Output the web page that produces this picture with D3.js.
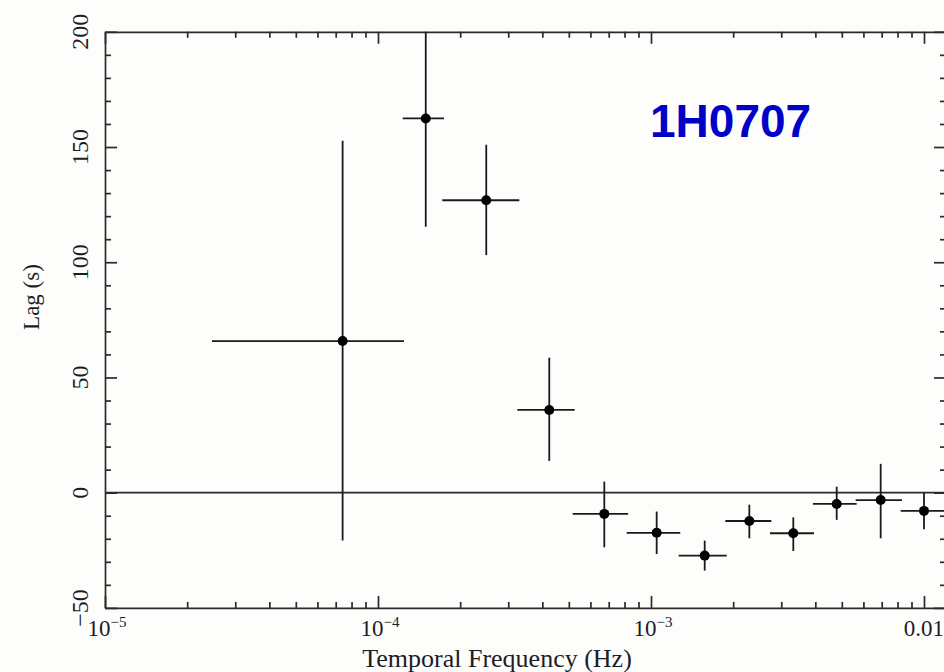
<html>
<head>
<style>
body { margin: 0; background: #fdfdfb; }
svg { display: block; }
.tick-label { font-family: "Liberation Serif", "DejaVu Serif", serif; fill: #1c1c28; }
.axis path, .axis line { stroke: #2a2a2a; stroke-width: 1.7px; }
.err { stroke: #1a1a1a; stroke-width: 1.8px; }
</style>
</head>
<body>
<div class="chart"></div>
<script src="https://d3js.org/d3.v7.min.js"></script>
<script>
// frequency bins (Hz): centre, lower and upper edge
var freq   = [7.42e-5, 1.496e-4, 2.492e-4, 4.24e-4, 6.745e-4, 1.049e-3, 1.573e-3, 2.292e-3, 3.321e-3, 4.789e-3, 6.94e-3, 1.0e-2];
var freqLo = [2.464e-5, 1.232e-4, 1.720e-4, 3.238e-4, 5.166e-4, 8.147e-4, 1.263e-3, 1.872e-3, 2.728e-3, 3.92e-3, 5.62e-3, 8.216e-3];
var freqHi = [1.245e-4, 1.745e-4, 3.293e-4, 5.254e-4, 8.25e-4, 1.28e-3, 1.894e-3, 2.758e-3, 3.955e-3, 5.668e-3, 8.305e-3, 1.217e-2];
// lag (s) and its error range
var lag    = [65.8, 162.4, 126.9, 35.9, -9.2, -17.4, -27.3, -12.3, -17.6, -4.9, -3.2, -7.9];
var lagHi  = [152.7, 212, 151.0, 58.6, 4.8, -8.2, -20.8, -5.2, -10.7, 2.6, 12.5, 0.0];
var lagLo  = [-20.8, 115.4, 103.1, 13.8, -23.7, -26.6, -33.8, -19.8, -25.3, -11.8, -19.8, -15.9];

var xMajor = [1e-5, 1e-4, 1e-3, 1e-2];
var xLabelBase = ["10", "10", "10", "0.01"];
var xLabelExp  = ["\u22125", "\u22124", "\u22123", ""];
var yMajor = [-50, 0, 50, 100, 150, 200];
var yLabels = ["\u221250", "0", "50", "100", "150", "200"];

var W = 944, H = 672;
var pL = 105, pR = 946, pT = 31.8, pB = 607.9;

var svg = d3.select(".chart").append("svg")
    .attr("width", W)
    .attr("height", H);

var x = d3.scaleLog().domain([1e-5, 0.01204]).range([pL, pR]);
var y = d3.scaleLinear().domain([-50, 200]).range([pB, pT]);

// minor ticks
var xMinor = [];
xMajor.forEach(function(d){
  for (var k = 2; k <= 9; k++) if (d * k < 0.01204) xMinor.push(d * k);
});
var yMinor = d3.range(-50, 201, 10).filter(function(v){ return v % 50 !== 0; });

svg.append("defs").append("clipPath").attr("id", "plot")
  .append("rect").attr("x", pL).attr("y", pT)
  .attr("width", pR - pL).attr("height", pB - pT);

function addAxis(gen, tr, vals, size){
  return svg.append("g").attr("class", "axis")
      .attr("transform", tr)
      .call(gen.tickValues(vals).tickSizeInner(size).tickSizeOuter(0).tickFormat(""));
}

addAxis(d3.axisBottom(x), "translate(0," + pB + ")", xMajor, -12);
addAxis(d3.axisBottom(x), "translate(0," + pB + ")", xMinor, -6).select(".domain").remove();
addAxis(d3.axisTop(x), "translate(0," + pT + ")", xMajor, -12);
addAxis(d3.axisTop(x), "translate(0," + pT + ")", xMinor, -6).select(".domain").remove();
addAxis(d3.axisLeft(y), "translate(" + pL + ",0)", yMajor, -12);
addAxis(d3.axisLeft(y), "translate(" + pL + ",0)", yMinor, -6).select(".domain").remove();
addAxis(d3.axisRight(y), "translate(" + pR + ",0)", yMajor, -12);
addAxis(d3.axisRight(y), "translate(" + pR + ",0)", yMinor, -6).select(".domain").remove();
svg.selectAll(".axis .tick text").remove();

// x tick labels with superscript
xMajor.forEach(function(v, i){
  var t = svg.append("text").attr("class", "tick-label")
      .attr("x", x(v) + (xLabelExp[i] ? 2 : 0))
      .attr("y", 636)
      .attr("text-anchor", "middle")
      .style("font-size", "23px");
  t.append("tspan").text(xLabelBase[i]);
  if (xLabelExp[i]) t.append("tspan").attr("dy", -9).style("font-size", "15px").text(xLabelExp[i]);
});

// y tick labels, rotated
yMajor.forEach(function(v, i){
  svg.append("text").attr("class", "tick-label")
    .attr("transform", "translate(88," + y(v) + ") rotate(-90)")
    .attr("text-anchor", "middle")
    .style("font-size", "24px")
    .text(yLabels[i]);
});

svg.append("text").attr("class", "tick-label")
  .attr("x", 497).attr("y", 667)
  .attr("text-anchor", "middle")
  .style("font-size", "26px")
  .text("Temporal Frequency (Hz)");

svg.append("text").attr("class", "tick-label")
  .attr("transform", "translate(39,297) rotate(-90)")
  .attr("text-anchor", "middle")
  .style("font-size", "23px")
  .text("Lag (s)");

var plot = svg.append("g").attr("clip-path", "url(#plot)");

// zero line
plot.append("line")
  .attr("x1", pL).attr("x2", pR)
  .attr("y1", y(0)).attr("y2", y(0))
  .style("stroke", "#2a2a2a").style("stroke-width", "1.7px");

var idx = d3.range(freq.length);

plot.selectAll(".xerr").data(idx).enter().append("line")
  .attr("class", "err")
  .attr("x1", function(i){ return x(freqLo[i]); })
  .attr("x2", function(i){ return x(freqHi[i]); })
  .attr("y1", function(i){ return y(lag[i]); })
  .attr("y2", function(i){ return y(lag[i]); });

plot.selectAll(".yerr").data(idx).enter().append("line")
  .attr("class", "err")
  .attr("x1", function(i){ return x(freq[i]); })
  .attr("x2", function(i){ return x(freq[i]); })
  .attr("y1", function(i){ return y(lagLo[i]); })
  .attr("y2", function(i){ return y(lagHi[i]); });

plot.selectAll(".point").data(idx).enter().append("circle")
  .attr("r", 5)
  .attr("fill", "#000")
  .attr("cx", function(i){ return x(freq[i]); })
  .attr("cy", function(i){ return y(lag[i]); });

svg.append("text")
  .attr("x", 650).attr("y", 137)
  .style("font-family", "'Liberation Sans', Arial, sans-serif")
  .style("font-weight", "bold")
  .style("font-size", "46px")
  .style("fill", "#0000c8")
  .text("1H0707");
</script>
</body>
</html>
